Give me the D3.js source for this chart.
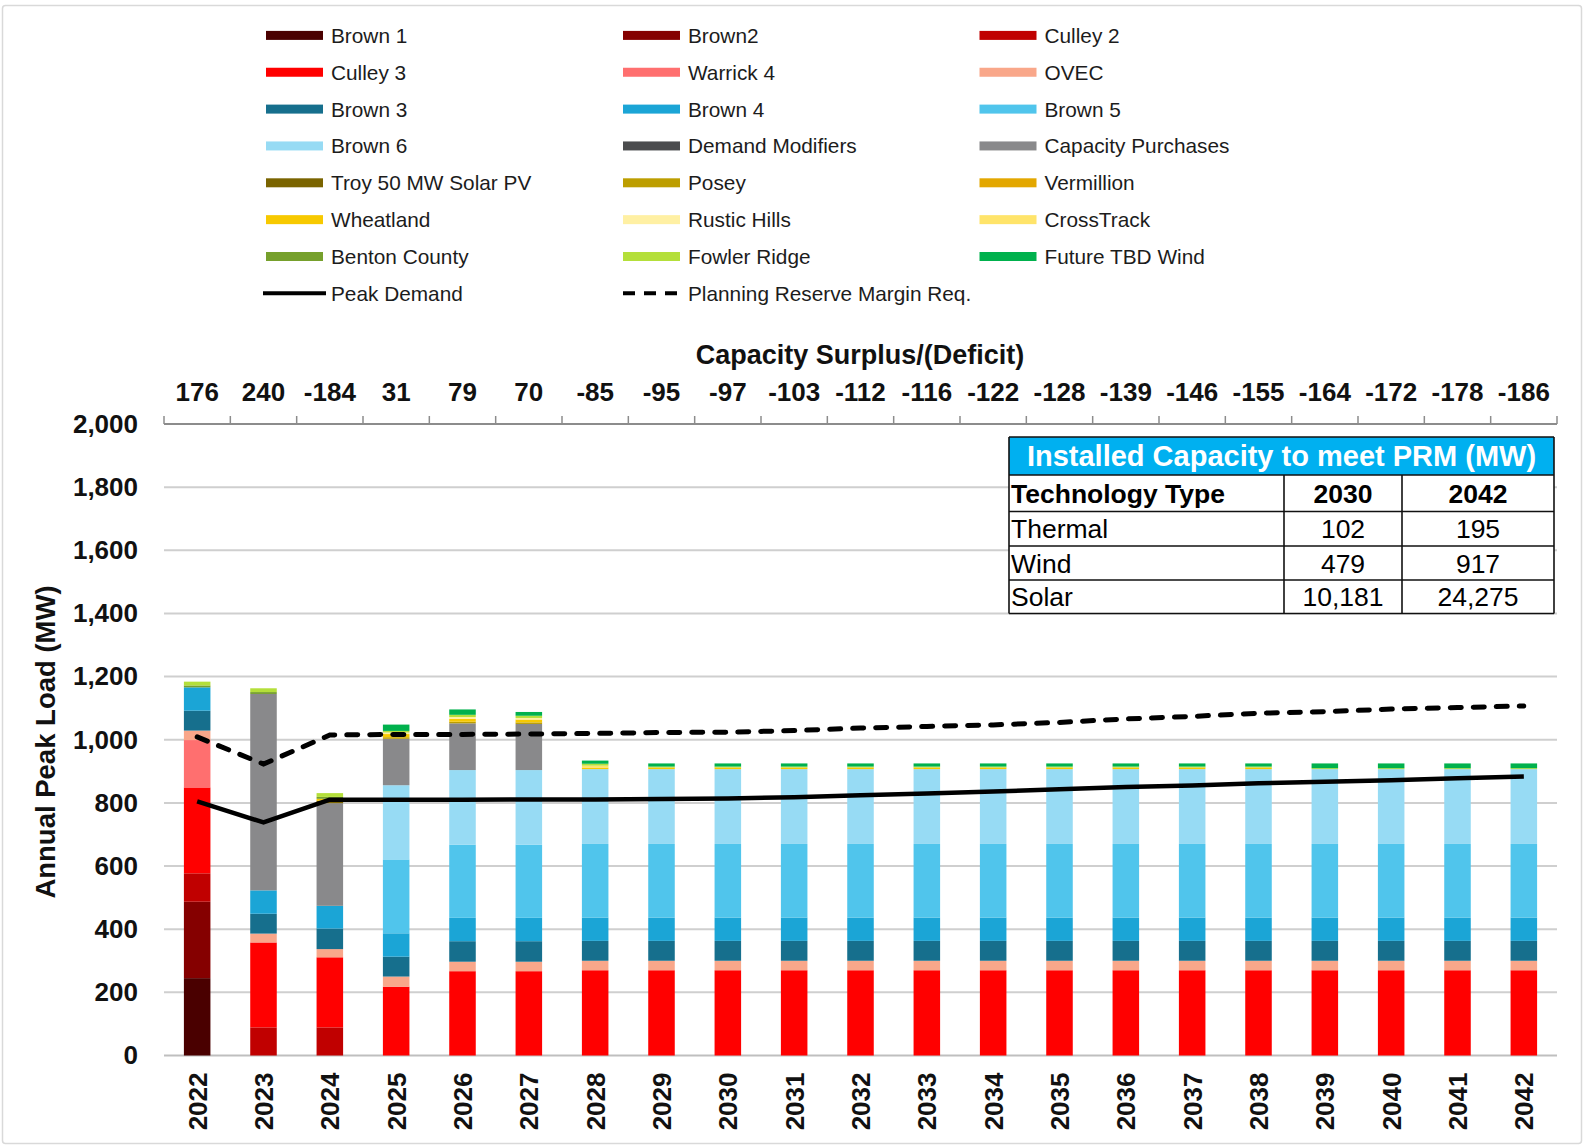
<!DOCTYPE html>
<html>
<head>
<meta charset="utf-8">
<script src="https://cdn.jsdelivr.net/npm/d3@7"></script>
<style>
  html, body { margin: 0; padding: 0; background: #ffffff; }
  svg { display: block; font-family: "Liberation Sans", Arial, sans-serif; }
</style>
</head>
<body>
<svg id="chart" width="1585" height="1147"></svg>
<script>
// ---- Data -------------------------------------------------------------
const years = [2022, 2023, 2024, 2025, 2026, 2027, 2028, 2029, 2030, 2031, 2032,
               2033, 2034, 2035, 2036, 2037, 2038, 2039, 2040, 2041, 2042];

const surplus = [176, 240, -184, 31, 79, 70, -85, -95, -97, -103, -112,
                 -116, -122, -128, -139, -146, -155, -164, -172, -178, -186];

const brown1     = [245, 0, 0, 0, 0, 0, 0, 0, 0, 0, 0, 0, 0, 0, 0, 0, 0, 0, 0, 0, 0];
const brown2     = [242, 0, 0, 0, 0, 0, 0, 0, 0, 0, 0, 0, 0, 0, 0, 0, 0, 0, 0, 0, 0];
const culley2    = [90, 89, 89, 0, 0, 0, 0, 0, 0, 0, 0, 0, 0, 0, 0, 0, 0, 0, 0, 0, 0];
const culley3    = [272, 269, 222, 218, 267, 267, 270, 270, 270, 270, 270, 270, 270, 270, 270, 270, 270, 270, 270, 270, 270];
const warrick4   = [150, 0, 0, 0, 0, 0, 0, 0, 0, 0, 0, 0, 0, 0, 0, 0, 0, 0, 0, 0, 0];
const ovec       = [30, 28, 26, 32, 30, 30, 30, 30, 30, 30, 30, 30, 30, 30, 30, 30, 30, 30, 30, 30, 30];
const brown3     = [63, 63, 65, 63, 65, 65, 63, 63, 63, 63, 63, 63, 63, 63, 63, 63, 63, 63, 63, 63, 63];
const brown4     = [74, 74, 72, 74, 74, 74, 74, 74, 74, 74, 74, 74, 74, 74, 74, 74, 74, 74, 74, 74, 74];
const brown5     = [0, 0, 0, 234, 232, 232, 233, 233, 233, 233, 233, 233, 233, 233, 233, 233, 233, 233, 233, 233, 233];
const brown6     = [0, 0, 0, 235, 236, 236, 237, 237, 237, 237, 237, 237, 237, 237, 237, 237, 237, 237, 237, 237, 237];
const demandMods = [0, 0, 0, 0, 0, 0, 0, 0, 0, 0, 0, 0, 0, 0, 0, 0, 0, 0, 0, 0, 0];
const capPurch   = [0, 622, 325, 147, 148, 146, 0, 0, 0, 0, 0, 0, 0, 0, 0, 0, 0, 0, 0, 0, 0];
const troySolar  = [0, 0, 8, 0, 0, 0, 0, 0, 0, 0, 0, 0, 0, 0, 0, 0, 0, 0, 0, 0, 0];
const posey      = [0, 0, 0, 5, 5, 5, 0, 0, 0, 0, 0, 0, 0, 0, 0, 0, 0, 0, 0, 0, 0];
const vermillion = [0, 0, 0, 0, 0, 0, 0, 0, 0, 0, 0, 0, 0, 0, 0, 0, 0, 0, 0, 0, 0];
const wheatland  = [0, 0, 6, 10, 9, 9, 5, 5, 5, 5, 5, 5, 5, 5, 5, 5, 5, 0, 0, 0, 0];
const rusticHill = [0, 0, 0, 5, 6, 5, 0, 0, 0, 0, 0, 0, 0, 0, 0, 0, 0, 0, 0, 0, 0];
const crossTrack = [0, 0, 0, 0, 0, 0, 6, 0, 0, 0, 0, 0, 0, 0, 0, 0, 0, 0, 0, 0, 0];
const benton     = [6, 6, 6, 0, 0, 0, 0, 0, 0, 0, 0, 0, 0, 0, 0, 0, 0, 0, 0, 0, 0];
const fowler     = [12, 12, 12, 5, 7, 7, 6, 3, 3, 3, 3, 3, 3, 3, 3, 3, 3, 3, 3, 3, 3];
const futureWind = [0, 0, 0, 20, 17, 12, 10, 10, 10, 10, 10, 10, 10, 10, 10, 10, 10, 15, 15, 15, 15];

const peakDemand = [805, 738, 810, 810, 810, 811, 811, 812, 814, 818, 824, 830, 836, 843, 850,
                    855, 862, 867, 872, 878, 884];
const prmReq     = [1009, 923, 1015, 1017, 1017, 1018, 1020, 1023, 1024, 1029, 1037, 1042, 1047,
                    1055, 1066, 1074, 1084, 1089, 1097, 1102, 1107];

const yTicks = [0, 200, 400, 600, 800, 1000, 1200, 1400, 1600, 1800, 2000];

// Installed capacity table
const tableTitle = "Installed Capacity to meet PRM (MW)";
const tableHeader = ["Technology Type", "2030", "2042"];
const tableTech = ["Thermal", "Wind", "Solar"];
const table2030 = ["102", "479", "10,181"];
const table2042 = ["195", "917", "24,275"];

// Series in stacking order (bottom to top), with their fill colours
const series = [
  { name: "Brown 1", values: brown1, color: "#4a0000" },
  { name: "Brown2", values: brown2, color: "#850000" },
  { name: "Culley 2", values: culley2, color: "#c00000" },
  { name: "Culley 3", values: culley3, color: "#ff0000" },
  { name: "Warrick 4", values: warrick4, color: "#ff6f6f" },
  { name: "OVEC", values: ovec, color: "#f9a78a" },
  { name: "Brown 3", values: brown3, color: "#166f8d" },
  { name: "Brown 4", values: brown4, color: "#1ba5d6" },
  { name: "Brown 5", values: brown5, color: "#50c5ec" },
  { name: "Brown 6", values: brown6, color: "#97dbf4" },
  { name: "Demand Modifiers", values: demandMods, color: "#4b4c4e" },
  { name: "Capacity Purchases", values: capPurch, color: "#89898b" },
  { name: "Troy 50 MW Solar PV", values: troySolar, color: "#7a6400" },
  { name: "Posey", values: posey, color: "#bd9e00" },
  { name: "Vermillion", values: vermillion, color: "#e3a700" },
  { name: "Wheatland", values: wheatland, color: "#f7c900" },
  { name: "Rustic Hills", values: rusticHill, color: "#fff0a3" },
  { name: "CrossTrack", values: crossTrack, color: "#ffe46a" },
  { name: "Benton County", values: benton, color: "#76a02c" },
  { name: "Fowler Ridge", values: fowler, color: "#b4df3a" },
  { name: "Future TBD Wind", values: futureWind, color: "#00b14d" }
];

// ---- Layout -----------------------------------------------------------
const svg = d3.select("#chart");
const W = 1585, H = 1147;
const plotLeft = 164, plotRight = 1557;
const yZero = 1055.5, yTop = 424;
const FONT = "'Liberation Sans', Arial, sans-serif";

// outer frame
svg.append("rect")
  .attr("x", 2.5).attr("y", 5.5).attr("width", W - 6).attr("height", H - 9)
  .attr("rx", 3).attr("fill", "#fff").attr("stroke", "#d9d9d9").attr("stroke-width", 1.5);

const x = d3.scaleBand().domain(years).range([plotLeft, plotRight])
  .paddingInner(0.6).paddingOuter(0.3);
const y = d3.scaleLinear().domain([0, 2000]).range([yZero, yTop]);
const cx = d => x(d) + x.bandwidth() / 2;

// ---- Gridlines & left axis -------------------------------------------
const grid = svg.append("g");
grid.selectAll("line").data(yTicks.filter(v => v > 0 && v < 2000)).join("line")
  .attr("x1", plotLeft).attr("x2", plotRight)
  .attr("y1", d => y(d)).attr("y2", d => y(d))
  .attr("stroke", "#cfcfcf").attr("stroke-width", 2);

const yAxis = d3.axisLeft(y).tickValues(yTicks).tickSize(0).tickPadding(26)
  .tickFormat(d3.format(","));
svg.append("g").attr("transform", `translate(${plotLeft},0)`).call(yAxis)
  .call(g => g.select(".domain").remove())
  .selectAll("text")
  .attr("font-family", FONT).attr("font-size", 26).attr("font-weight", "bold").attr("fill", "#111");

// baseline at zero
svg.append("line").attr("x1", plotLeft).attr("x2", plotRight)
  .attr("y1", y(0)).attr("y2", y(0)).attr("stroke", "#bfbfbf").attr("stroke-width", 2);

// ---- Stacked bars ------------------------------------------------------
const rows = years.map((yr, i) => {
  const r = { year: yr };
  series.forEach(s => { r[s.name] = s.values[i]; });
  return r;
});
const stack = d3.stack().keys(series.map(s => s.name));
const layers = stack(rows);

svg.append("g").selectAll("g").data(layers).join("g")
  .attr("fill", (d, i) => series[i].color)
  .selectAll("rect").data(d => d.filter(p => p[1] - p[0] > 0)).join("rect")
  .attr("x", d => x(d.data.year))
  .attr("width", x.bandwidth())
  .attr("y", d => y(d[1]))
  .attr("height", d => y(d[0]) - y(d[1]));

// ---- Demand lines ------------------------------------------------------
const line = d3.line().x((d, i) => cx(years[i])).y(d => y(d));
svg.append("path").datum(peakDemand).attr("d", line)
  .attr("fill", "none").attr("stroke", "#000").attr("stroke-width", 4.5)
  .attr("stroke-linejoin", "round");
svg.append("path").datum(prmReq).attr("d", line)
  .attr("fill", "none").attr("stroke", "#000").attr("stroke-width", 5)
  .attr("stroke-dasharray", "11,12").attr("stroke-linecap", "round");

// ---- Bottom year labels -----------------------------------------------
const xAxis = d3.axisBottom(x).tickSize(0).tickPadding(0);
const xg = svg.append("g").attr("transform", `translate(0,${yZero})`).call(xAxis);
xg.select(".domain").remove();
xg.selectAll("text")
  .attr("font-family", FONT).attr("font-size", 26).attr("font-weight", "bold").attr("fill", "#111")
  .attr("transform", "rotate(-90)")
  .attr("text-anchor", "end")
  .attr("x", -17).attr("y", 0).attr("dy", "0.36em");

// ---- Top axis: capacity surplus/(deficit) -------------------------------
const topY = y(2000);
const boundaries = d3.range(years.length + 1).map(i => plotLeft + i * x.step());
svg.append("line").attr("x1", plotLeft).attr("x2", plotRight)
  .attr("y1", topY).attr("y2", topY).attr("stroke", "#8c8c8c").attr("stroke-width", 2);
svg.append("g").selectAll("line").data(boundaries).join("line")
  .attr("x1", d => d).attr("x2", d => d)
  .attr("y1", topY).attr("y2", topY - 8)
  .attr("stroke", "#8c8c8c").attr("stroke-width", 1.5);
svg.append("g").selectAll("text").data(years).join("text")
  .attr("x", d => cx(d)).attr("y", 401)
  .attr("text-anchor", "middle")
  .attr("font-family", FONT).attr("font-size", 26).attr("font-weight", "bold").attr("fill", "#111")
  .text((d, i) => surplus[i]);
svg.append("text").attr("x", 860).attr("y", 364).attr("text-anchor", "middle")
  .attr("font-family", FONT).attr("font-size", 27).attr("font-weight", "bold").attr("fill", "#111")
  .text("Capacity Surplus/(Deficit)");

// ---- Y axis title ------------------------------------------------------
svg.append("text").attr("transform", "translate(55,742) rotate(-90)")
  .attr("text-anchor", "middle")
  .attr("font-family", FONT).attr("font-size", 27.5).attr("font-weight", "bold").attr("fill", "#111")
  .text("Annual Peak Load (MW)");

// ---- Legend ------------------------------------------------------------
const legendItems = series.map(s => ({ name: s.name, color: s.color, type: "bar" }))
  .concat([{ name: "Peak Demand", type: "solid" },
           { name: "Planning Reserve Margin Req.", type: "dash" }]);
const colX = [266, 623, 979.5];
const rowY0 = 35.4, rowStep = 36.85;
const lg = svg.append("g").selectAll("g").data(legendItems).join("g")
  .attr("transform", (d, i) => `translate(${colX[i % 3]},${rowY0 + Math.floor(i / 3) * rowStep})`);
lg.filter(d => d.type === "bar").append("rect")
  .attr("x", 0).attr("y", -4.5).attr("width", 57).attr("height", 9)
  .attr("fill", d => d.color);
lg.filter(d => d.type === "solid").append("line")
  .attr("x1", -3).attr("x2", 60).attr("y1", 0).attr("y2", 0)
  .attr("stroke", "#000").attr("stroke-width", 4);
lg.filter(d => d.type === "dash").append("line")
  .attr("x1", 0).attr("x2", 57).attr("y1", 0).attr("y2", 0)
  .attr("stroke", "#000").attr("stroke-width", 4)
  .attr("stroke-dasharray", "12,9");
lg.append("text")
  .attr("x", 65).attr("y", 0).attr("dy", "0.36em")
  .attr("font-family", FONT).attr("font-size", 20.8).attr("fill", "#1c1c1c")
  .text(d => d.name);

// ---- Installed capacity table -----------------------------------------
const tX = [1009, 1284, 1402, 1554];
const tY = [437, 475, 511.5, 546, 580, 613.5];
const tg = svg.append("g");
tg.append("rect").attr("x", tX[0]).attr("y", tY[0]).attr("width", tX[3] - tX[0])
  .attr("height", tY[5] - tY[0]).attr("fill", "#fff");
tg.append("rect").attr("x", tX[0]).attr("y", tY[0]).attr("width", tX[3] - tX[0])
  .attr("height", tY[1] - tY[0]).attr("fill", "#00b0f0");
tg.append("text").attr("x", (tX[0] + tX[3]) / 2).attr("y", (tY[0] + tY[1]) / 2)
  .attr("dy", "0.36em").attr("text-anchor", "middle")
  .attr("font-family", FONT).attr("font-size", 29).attr("font-weight", "bold").attr("fill", "#fff")
  .text(tableTitle);
// grid lines of the table
tg.selectAll("line.h").data(tY).join("line")
  .attr("x1", tX[0]).attr("x2", tX[3]).attr("y1", d => d).attr("y2", d => d)
  .attr("stroke", "#111").attr("stroke-width", 1.6);
tg.selectAll("line.v").data(tX).join("line")
  .attr("x1", d => d).attr("x2", d => d)
  .attr("y1", (d, i) => (i === 0 || i === 3) ? tY[0] : tY[1]).attr("y2", tY[5])
  .attr("stroke", "#111").attr("stroke-width", 1.6);
const colMid = [null, (tX[1] + tX[2]) / 2, (tX[2] + tX[3]) / 2];
tableHeader.forEach((h, j) => {
  tg.append("text")
    .attr("x", j === 0 ? tX[0] + 2 : colMid[j]).attr("y", (tY[1] + tY[2]) / 2).attr("dy", "0.36em")
    .attr("text-anchor", j === 0 ? "start" : "middle")
    .attr("font-family", FONT).attr("font-size", 26.5).attr("font-weight", "bold").attr("fill", "#000")
    .text(h);
});
tableTech.forEach((t, i) => {
  const cy = (tY[i + 2] + tY[i + 3]) / 2;
  [t, table2030[i], table2042[i]].forEach((v, j) => {
    tg.append("text")
      .attr("x", j === 0 ? tX[0] + 2 : colMid[j]).attr("y", cy).attr("dy", "0.36em")
      .attr("text-anchor", j === 0 ? "start" : "middle")
      .attr("font-family", FONT).attr("font-size", 26.5).attr("fill", "#000")
      .text(v);
  });
});
</script>
</body>
</html>
